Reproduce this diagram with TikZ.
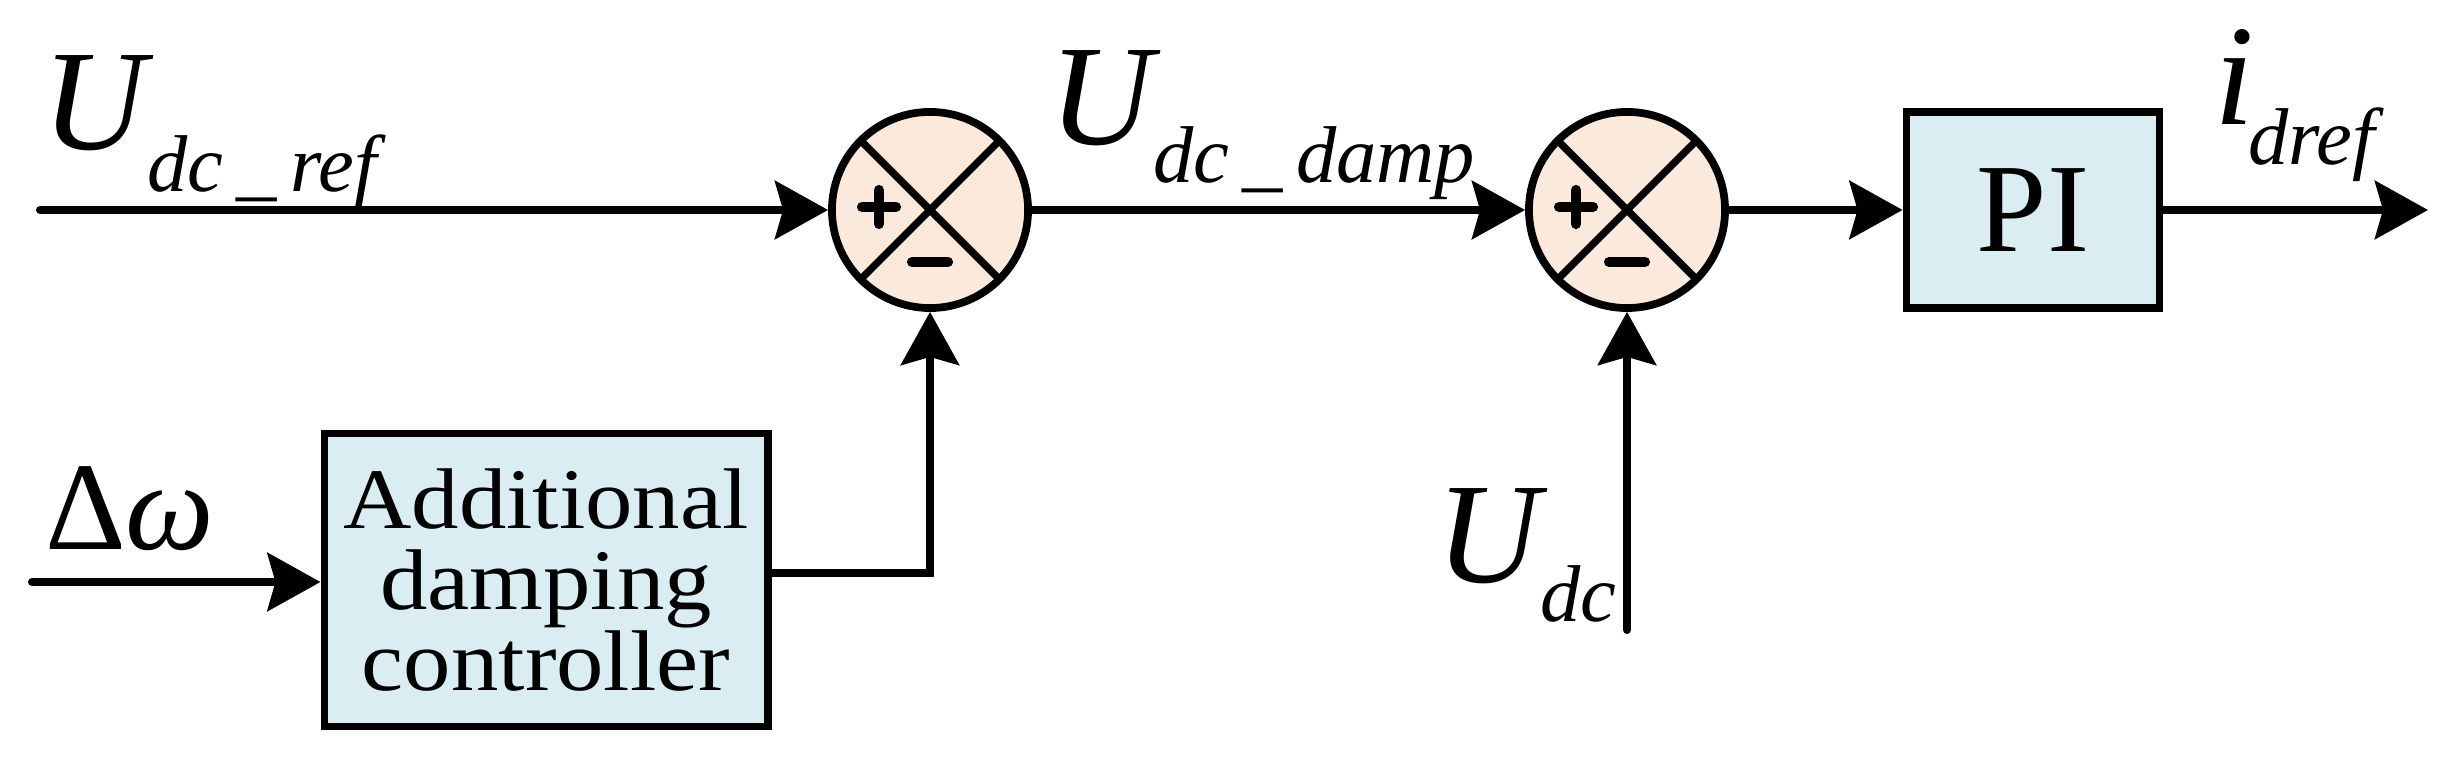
\documentclass[tikz,border=0pt]{standalone}
\usepackage{fontspec}
\setmainfont{Liberation Serif}
\newfontfamily\boxfont{Liberation Serif}[FakeStretch=1.1]
\usetikzlibrary{arrows.meta,calc}
\definecolor{sumfill}{HTML}{FBE9DB}
\definecolor{boxfill}{HTML}{DAEDF3}
\tikzset{
  sumnode/.style={circle, draw, line width=2.2pt, fill=sumfill, minimum size=1.96cm, inner sep=0pt},
  blk/.style={rectangle, draw, line width=2.2pt, fill=boxfill, inner sep=0pt, align=center},
  sig/.style={line width=2.3pt, line cap=round, -{Stealth[length=5.3mm,width=5.8mm,inset=0.8mm]}},
  crossline/.style={line width=2.1pt},
  lbl/.style={anchor=base west, inner sep=0pt, outer sep=0pt},
  pmsign/.style={line width=2.9pt, line cap=round},
  mainsz/.style={font=\fontsize{40.8}{41}\selectfont\itshape},
  subsz/.style={font=\fontsize{22.9}{23}\selectfont\itshape},
}
\newcommand{\sumjunction}[3]{%
  \node[sumnode] (#1) at (#2,#3) {};
  \draw[crossline] ($(#1.center)+(-69,-69)$) -- ($(#1.center)+(69,69)$);
  \draw[crossline] ($(#1.center)+(-69,69)$) -- ($(#1.center)+(69,-69)$);
  \draw[pmsign] ($(#1.center)+(-68,-3)$) -- ($(#1.center)+(-34,-3)$);
  \draw[pmsign] ($(#1.center)+(-51,-20)$) -- ($(#1.center)+(-51,14)$);
  \draw[pmsign] ($(#1.center)+(-18,52)$) -- ($(#1.center)+(18,52)$);
}
\begin{document}
\begin{tikzpicture}[x=0.01cm,y=-0.01cm]
\useasboundingbox (0,0) rectangle (2461,762);

% summing junctions
\sumjunction{s1}{930}{210}
\sumjunction{s2}{1627}{210}

% blocks
\node[blk, minimum width=2.53cm, minimum height=1.96cm, font=\fontsize{36}{36}\selectfont] (pi) at (2033,210) {PI};
\node[blk, minimum width=4.43cm, minimum height=2.93cm, font=\boxfont\fontsize{24.5}{23}\selectfont] (adc) at (546,580) {Additional\\damping\\controller};

% free ends
\coordinate (refin) at (40,210);
\coordinate (iout) at (2428,210);
\coordinate (dwin) at (32,582);
\coordinate (udcin) at (1627,630);

% connectors
\draw[sig] (refin) -- (s1.west);
\draw[sig] (s1.east) -- (s2.west);
\draw[sig] (s2.east) -- (pi.west);
\draw[sig] (pi.east) -- (iout);
\draw[sig] (dwin) -- (dwin -| adc.west);
\draw[sig] ([yshift=0.07cm]adc.east) -| (s1.south);
\draw[sig] (udcin) -- (s2.south);

% labels
\node[lbl, mainsz] (uref) at (42,150) {U};
\node[lbl, subsz] (urefs) at (147,192) {dc\,\_\,ref};
\node[lbl, mainsz] (udamp) at (1049,145) {U};
\node[lbl, subsz] (udamps) at (1153,183) {dc\,\_\,damp};
\node[lbl, mainsz] (idr) at (2214,125) {i};
\node[lbl, subsz] (idrs) at (2248,165) {dref};
\node[lbl, mainsz] (udc) at (1436,583) {U};
\node[lbl, subsz] (udcs) at (1540,622) {dc};
\node[lbl, font=\fontsize{35.7}{36}\selectfont] (dw) at (45,550) {Δ\textit{ω}};
\end{tikzpicture}
\end{document}
